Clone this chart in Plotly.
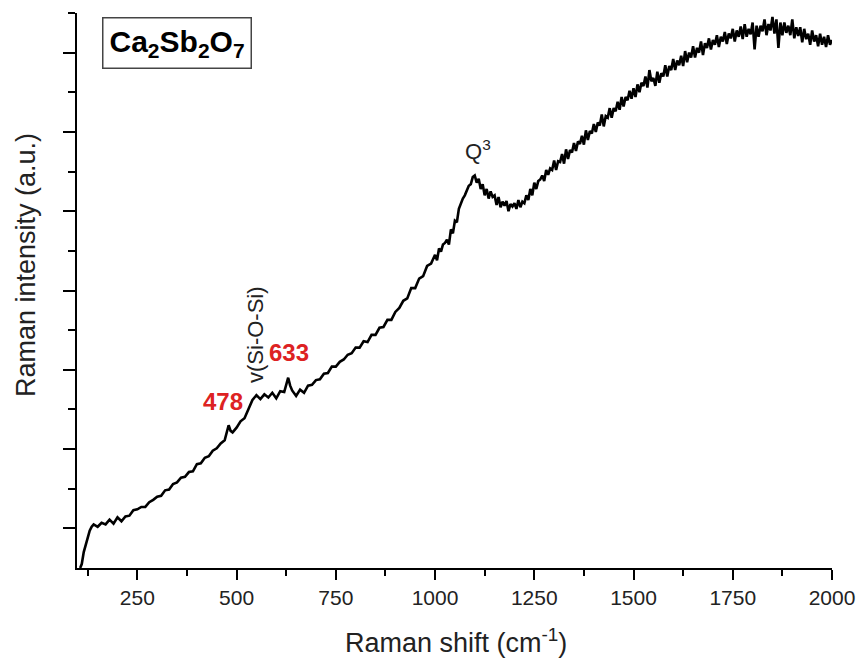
import plotly.graph_objects as go

# Raman spectrum of Ca2Sb2O7 (arbitrary units)
shift_low = [106, 110, 115, 120, 125, 130, 135, 140,
             150, 160, 170, 180, 190, 200, 210, 220, 230, 240,
             250, 260, 270, 280, 290, 300, 310, 320, 330, 340,
             350, 360, 370, 380, 390, 400, 410, 420, 430, 440,
             450, 460, 470, 475, 480, 485, 490,
             500, 510, 520, 530, 540, 550, 560, 570, 580, 590, 600, 610, 620, 630,
             635, 640,
             650, 660, 670, 680, 690, 700, 710, 720, 730, 740,
             750, 760, 770, 780, 790, 800, 810, 820, 830, 840,
             850, 860, 870, 880, 890, 900, 910, 920, 930, 940,
             950, 960, 970, 980, 990]
intensity_low = [0.00, 0.05, 0.20, 0.30, 0.40, 0.47, 0.52, 0.55,
                 0.52, 0.57, 0.55, 0.61, 0.56, 0.64, 0.59, 0.65, 0.66, 0.73,
                 0.74, 0.77, 0.77, 0.83, 0.86, 0.90, 0.91, 0.98, 0.99, 1.06,
                 1.08, 1.14, 1.15, 1.21, 1.22, 1.31, 1.32, 1.39, 1.41, 1.48,
                 1.51, 1.57, 1.61, 1.70, 1.80, 1.73, 1.71,
                 1.77, 1.85, 1.89, 2.00, 2.12, 2.18, 2.13, 2.19, 2.15, 2.21, 2.14, 2.23, 2.22, 2.40,
                 2.30, 2.24,
                 2.17, 2.25, 2.21, 2.30, 2.31, 2.37, 2.38, 2.45, 2.46, 2.54,
                 2.54, 2.60, 2.63, 2.69, 2.71, 2.78, 2.78, 2.86, 2.85, 2.94,
                 2.94, 3.03, 3.04, 3.13, 3.13, 3.23, 3.28, 3.37, 3.40, 3.53,
                 3.53, 3.65, 3.68, 3.81, 3.84]

# 1000 - 2000 cm-1, every 5 cm-1 (one row = 50 cm-1)
shift_high = list(range(1000, 2001, 5))
intensity_high = [
    3.95, 3.88, 4.03, 3.99, 4.08, 4.10, 4.14, 4.08, 4.27, 4.22,
    4.38, 4.36, 4.53, 4.60, 4.66, 4.70, 4.76, 4.82, 4.84, 4.93,
    4.95, 4.86, 4.91, 4.78, 4.84, 4.70, 4.78, 4.66, 4.75, 4.68,
    4.70, 4.58, 4.68, 4.55, 4.62, 4.57, 4.63, 4.50, 4.59, 4.56,
    4.60, 4.53, 4.64, 4.55, 4.62, 4.60, 4.70, 4.64, 4.78, 4.70,
    4.86, 4.78, 4.88, 4.90, 4.95, 4.88, 5.02, 4.96, 5.04, 5.02,
    5.14, 5.02, 5.13, 5.12, 5.22, 5.10, 5.28, 5.16, 5.27, 5.24,
    5.36, 5.26, 5.38, 5.35, 5.45, 5.34, 5.52, 5.40, 5.51, 5.48,
    5.60, 5.50, 5.62, 5.58, 5.72, 5.57, 5.70, 5.68, 5.80, 5.68,
    5.80, 5.76, 5.88, 5.78, 5.94, 5.82, 5.94, 5.90, 6.02, 5.92,
    6.05, 5.94, 6.10, 6.00, 6.12, 6.08, 6.20, 6.06, 6.28, 6.14,
    6.18, 6.08, 6.26, 6.12, 6.24, 6.20, 6.34, 6.20, 6.33, 6.28,
    6.42, 6.28, 6.40, 6.34, 6.46, 6.33, 6.52, 6.38, 6.50, 6.44,
    6.58, 6.44, 6.56, 6.50, 6.64, 6.47, 6.62, 6.56, 6.68, 6.54,
    6.66, 6.60, 6.72, 6.57, 6.70, 6.64, 6.76, 6.61, 6.74, 6.68,
    6.80, 6.64, 6.78, 6.70, 6.83, 6.67, 6.86, 6.70, 6.80, 6.73,
    6.88, 6.54, 6.84, 6.70, 6.84, 6.77, 6.92, 6.72, 6.86, 6.78,
    6.95, 6.74, 6.92, 6.56, 6.88, 6.72, 6.88, 6.75, 6.84, 6.72,
    6.92, 6.68, 6.82, 6.71, 6.82, 6.63, 6.80, 6.67, 6.74, 6.60,
    6.78, 6.64, 6.72, 6.58, 6.74, 6.60, 6.70, 6.57, 6.72, 6.60,
    6.66]

raman_shift = shift_low + shift_high
intensity = intensity_low + intensity_high

x_major_ticks = [250, 500, 750, 1000, 1250, 1500, 1750, 2000]
x_minor_ticks = [125, 375, 625, 875, 1125, 1375, 1625, 1875]
y_major_ticks = [0.5, 1.5, 2.5, 3.5, 4.5, 5.5, 6.5]
y_minor_ticks = [1.0, 2.0, 3.0, 4.0, 5.0, 6.0, 7.0]

FONT = "Arial, Liberation Sans, sans-serif"

# plot-area geometry in pixels (for placing annotations)
L, R, T, B = 77, 832, 13, 568
def px(xp):
    return (xp - L) / (R - L)
def py(yp):
    return (B - yp) / (B - T)

fig = go.Figure()
fig.add_trace(go.Scatter(x=raman_shift, y=intensity, mode="lines",
                         line=dict(color="black", width=2.6), showlegend=False))

fig.update_layout(
    width=857, height=659,
    margin=dict(l=L, r=857 - R, t=T, b=659 - B),
    plot_bgcolor="white", paper_bgcolor="white",
    font=dict(family=FONT, color="black"),
    xaxis=dict(range=[98, 2000], showline=True, linecolor="black", linewidth=2,
               showgrid=False, zeroline=False, automargin=False,
               ticks="outside", ticklen=10, tickwidth=2, tickcolor="black",
               tickmode="array", tickvals=x_major_ticks,
               ticktext=[str(v) for v in x_major_ticks],
               tickfont=dict(size=21, family=FONT, color="#222"),
               minor=dict(tickmode="array", tickvals=x_minor_ticks, ticks="outside",
                          ticklen=6, tickwidth=2, tickcolor="black", showgrid=False)),
    yaxis=dict(range=[0, 7.0], showline=True, linecolor="black", linewidth=2,
               showgrid=False, zeroline=False, automargin=False,
               ticks="outside", ticklen=12, tickwidth=2, tickcolor="black",
               tickmode="array", tickvals=y_major_ticks, showticklabels=False,
               minor=dict(tickmode="array", tickvals=y_minor_ticks, ticks="outside",
                          ticklen=7, tickwidth=2, tickcolor="black", showgrid=False)),
)

ann = [
    dict(x=px(456), y=py(641), text="Raman shift (cm<sup>-1</sup>)",
         font=dict(size=27, color="#222")),
    dict(x=px(26), y=py(265), text="Raman intensity (a.u.)", textangle=-90,
         font=dict(size=27, color="#222")),
    dict(x=px(176.5), y=py(42.5), text="<b>Ca<sub>2</sub>Sb<sub>2</sub>O<sub>7</sub></b>",
         font=dict(size=30, color="black"), bordercolor="#444", borderwidth=1.5,
         borderpad=6, bgcolor="white"),
    dict(x=px(478), y=py(150), text="Q<sup>3</sup>", font=dict(size=22, color="#222")),
    dict(x=px(255), y=py(335), text="v(Si-O-Si)", textangle=-90,
         font=dict(size=22, color="#222")),
    dict(x=px(222.5), y=py(401), text="<b>478</b>", font=dict(size=24, color="#dd2222")),
    dict(x=px(289), y=py(352.5), text="<b>633</b>", font=dict(size=24, color="#dd2222")),
]
for a in ann:
    fig.add_annotation(xref="paper", yref="paper", showarrow=False,
                       xanchor="center", yanchor="middle", **a)

fig.write_html("out.html")
